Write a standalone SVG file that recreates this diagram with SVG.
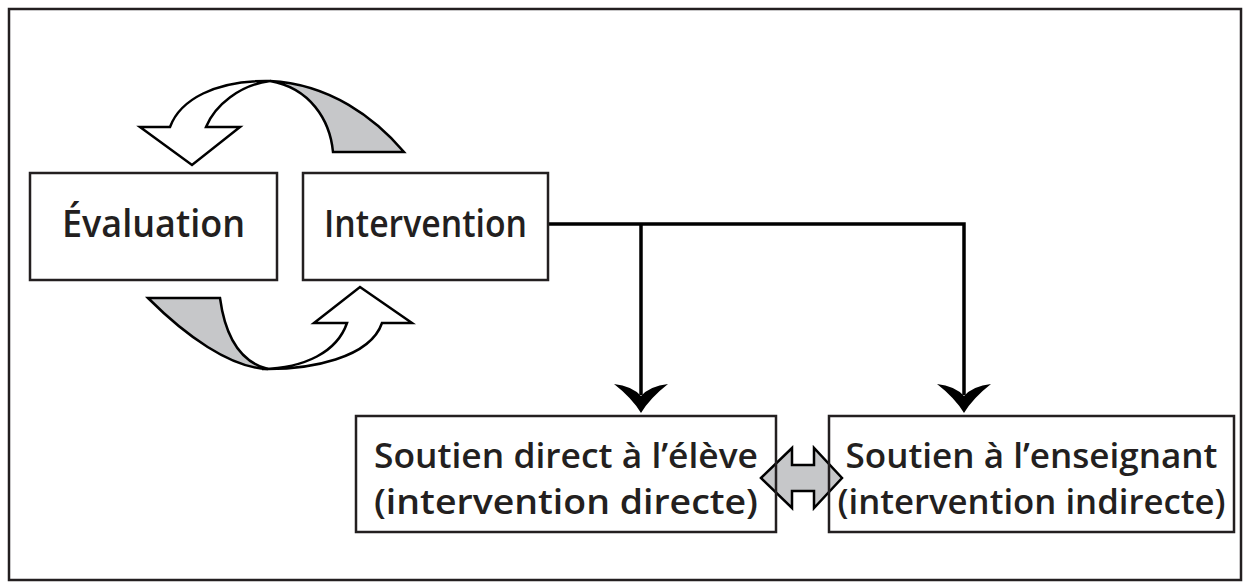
<svg xmlns="http://www.w3.org/2000/svg" xmlns:xlink="http://www.w3.org/1999/xlink" width="1249" height="588" viewBox="0 0 1249 588">
<style>
.box{fill:none;stroke:#231f20;stroke-width:2.5}
.lbl{font-family:"Open Sans","DejaVu Sans",sans-serif;font-weight:600;fill:#231f20;text-anchor:middle}
.big{font-size:37px}
.two{font-size:33.5px}
.conn{fill:none;stroke:#000;stroke-width:3.5}
.curl{stroke:#000;stroke-width:2.5;stroke-linejoin:miter}
.white{fill:#fff}
.gray{fill:#c6c7c9}
</style>
<defs>
<path id="ah" d="M-27,-29 Q-9,-27 0,-17 Q9,-27 27,-29 Q9,-15 0,0 Q-9,-15 -27,-29 Z" fill="#000"/>
</defs>
<rect x="0" y="0" width="1249" height="588" fill="#fff"/>
<rect id="frame" x="9" y="9" width="1232" height="571" fill="none" stroke="#231f20" stroke-width="2.5"/>

<g id="cycle-top">
<path class="curl gray" d="M270,81 C330,84 375,118 404,152 L333,152 C330,120 310,88 270,81 Z"/>
<path class="curl white" d="M170,127 C180,100 215,80 270,81 C240,85 215,105 206,127 L240,127 L192,165 L140,127 Z"/>
</g>
<g id="cycle-bottom">
<path class="curl gray" d="M148,298 L220,298 C225,335 240,362 268,369 C230,368 185,335 148,298 Z"/>
<path class="curl white" d="M262,369 C310,370 370,358 382,323 L412,323 L360,287 L314,323 L347,323 C337,352 305,368 262,369 Z"/>
</g>

<g id="connectors">
<path class="conn" d="M548,224 H964 V395"/>
<path class="conn" d="M641,224 V395"/>
<use xlink:href="#ah" href="#ah" x="641" y="413"/>
<use xlink:href="#ah" href="#ah" x="964" y="413"/>
<path id="double-arrow" class="curl gray" stroke-width="2" d="M761,478 L792,448 L792,465 L814,465 L814,448 L842,478 L814,508 L814,491 L792,491 L792,508 Z"/>
</g>

<g id="evaluation">
<rect class="box" x="30" y="173" width="247" height="107"/>
<text class="lbl big" x="153.5" y="237" textLength="183" lengthAdjust="spacingAndGlyphs">Évaluation</text>
</g>
<g id="intervention">
<rect class="box" x="303" y="173" width="245" height="107"/>
<text class="lbl big" x="425.5" y="237" textLength="203" lengthAdjust="spacingAndGlyphs">Intervention</text>
</g>
<g id="soutien-eleve">
<rect class="box" x="356" y="416" width="420" height="116"/>
<text class="lbl two" x="566" y="468" textLength="384" lengthAdjust="spacingAndGlyphs">Soutien direct à l’élève</text>
<text class="lbl two" x="566" y="514" textLength="384" lengthAdjust="spacingAndGlyphs">(intervention directe)</text>
</g>
<g id="soutien-enseignant">
<rect class="box" x="829" y="416" width="405" height="116"/>
<text class="lbl two" x="1031.5" y="468" textLength="372" lengthAdjust="spacingAndGlyphs">Soutien à l’enseignant</text>
<text class="lbl two" x="1031.5" y="514" textLength="388" lengthAdjust="spacingAndGlyphs">(intervention indirecte)</text>
</g>
</svg>
